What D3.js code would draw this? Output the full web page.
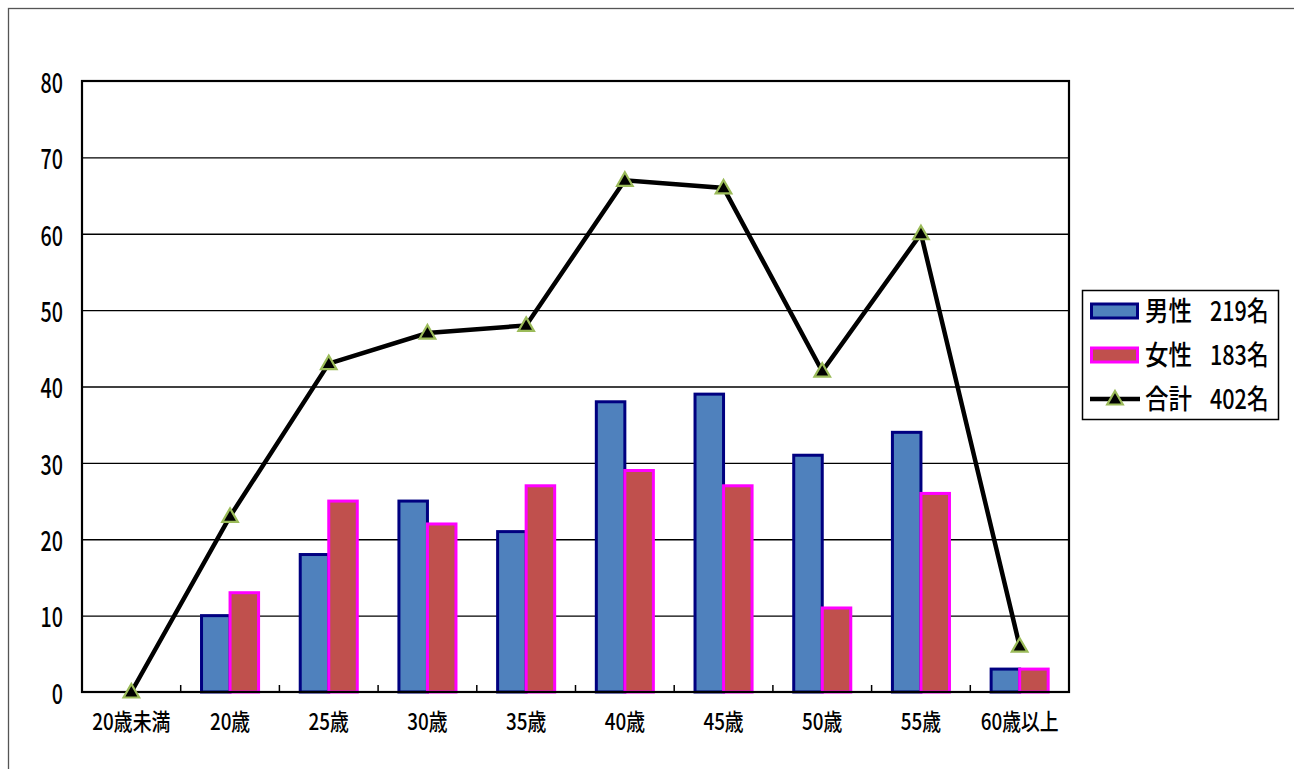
<!DOCTYPE html>
<html><head><meta charset="utf-8">
<script src="https://cdn.jsdelivr.net/npm/d3@7"></script>
<style>
html,body{margin:0;padding:0;background:#fff;}
text{font-family:"Noto Sans CJK JP","Noto Sans",sans-serif;fill:#000;font-weight:500;}
</style></head>
<body><svg id="c" width="1294" height="769"></svg>
<script>
const categories = ["20歳未満","20歳","25歳","30歳","35歳","40歳","45歳","50歳","55歳","60歳以上"];
const male   = [0,10,18,25,21,38,39,31,34,3];
const female = [0,13,25,22,27,29,27,11,26,3];
const total  = [0,23,43,47,48,67,66,42,60,6];
const seriesNames = ["男性","女性","合計"];
const yTicks = [0,10,20,30,40,50,60,70,80];

const svg = d3.select("#c");
svg.append("rect").attr("width",1294).attr("height",769).attr("fill","#fff");
svg.append("rect").attr("x",8.5).attr("y",8.5).attr("width",1400).attr("height",900)
  .attr("fill","none").attr("stroke","#555").attr("stroke-width",1.3);

const L=82, R=1069, T=81, B=692;
const x = d3.scaleBand().domain(categories).range([L,R]).padding(0);
const y = d3.scaleLinear().domain([0,80]).range([B,T]);
const x1 = d3.scaleBand().domain(["m","f"]).range([0,x.bandwidth()]).paddingInner(0).paddingOuter(0.73);

// grid
svg.append("g").selectAll("line").data(yTicks.filter(v=>v>0&&v<80)).join("line")
  .attr("x1",L).attr("x2",R).attr("y1",d=>y(d)+0.5).attr("y2",d=>y(d)+0.5)
  .attr("stroke","#000").attr("stroke-width",1.4);

// bars
const bars = svg.append("g");
categories.forEach((c,i)=>{
  [["m",male[i],"#4F81BD","#000080"],["f",female[i],"#C0504D","#FF00FF"]].forEach(([k,v,fill,stroke])=>{
    if(v<=0) return;
    bars.append("rect")
      .attr("x",x(c)+x1(k)).attr("width",x1.bandwidth())
      .attr("y",y(v)).attr("height",y(0)-y(v))
      .attr("fill",fill).attr("stroke",stroke).attr("stroke-width",3);
  });
});

// plot frame
svg.append("rect").attr("x",L).attr("y",T).attr("width",R-L).attr("height",B-T)
  .attr("fill","none").attr("stroke","#000").attr("stroke-width",2.2);

// x boundary ticks (inside)
svg.append("g").selectAll("line").data(categories.slice(1)).join("line")
  .attr("x1",d=>x(d)).attr("x2",d=>x(d)).attr("y1",B).attr("y2",B-7)
  .attr("stroke","#000").attr("stroke-width",1.5);

// y axis
const ya = svg.append("g").attr("transform",`translate(${L},0)`)
  .call(d3.axisLeft(y).tickValues(yTicks).tickSize(0).tickFormat(d3.format("d")));
ya.select(".domain").remove();
ya.selectAll("text").attr("font-size",27).attr("x",-26).attr("dy","0.42em")
  .attr("transform","scale(0.73,1)")
  .style("font-family",'"Noto Sans CJK JP"');

// x axis labels
const xa = svg.append("g").attr("transform",`translate(0,${B})`)
  .call(d3.axisBottom(x).tickSize(0));
xa.select(".domain").remove();
xa.selectAll(".tick text").attr("font-size",23).attr("y",30).attr("dy","0.36em")
   .attr("transform","scale(0.82,1)").style("font-family",'"Noto Sans CJK JP"');

// line
const pts = categories.map((c,i)=>[x(c)+x.bandwidth()/2, y(total[i])]);
svg.append("path").attr("d",d3.line()(pts)).attr("fill","none")
  .attr("stroke","#000").attr("stroke-width",4.5).attr("stroke-linejoin","miter");
const tri = d3.symbol().type(d3.symbolTriangle).size(105);
svg.append("g").selectAll("path").data(pts).join("path")
  .attr("d",tri).attr("transform",d=>`translate(${d[0]},${d[1]+1})`)
  .attr("fill","#000").attr("stroke","#9BBB59").attr("stroke-width",2.2);

// legend
const lg = svg.append("g");
lg.append("rect").attr("x",1082.5).attr("y",290.5).attr("width",196).attr("height",129)
  .attr("fill","#fff").attr("stroke","#000").attr("stroke-width",1.5);
const totals = [d3.sum(male), d3.sum(female), d3.sum(total)];
const rowsY = [311,355,399];
[["#4F81BD","#000080"],["#C0504D","#FF00FF"]].forEach(([f,s],i)=>{
  lg.append("rect").attr("x",1091.5).attr("y",rowsY[i]-7).attr("width",46).attr("height",14)
    .attr("fill",f).attr("stroke",s).attr("stroke-width",3);
});
lg.append("line").attr("x1",1090).attr("x2",1140).attr("y1",rowsY[2]).attr("y2",rowsY[2])
  .attr("stroke","#000").attr("stroke-width",4.5);
lg.append("path").attr("d",tri).attr("transform",`translate(1115,${rowsY[2]+1})`)
  .attr("fill","#000").attr("stroke","#9BBB59").attr("stroke-width",2.2);
seriesNames.forEach((n,i)=>{
  lg.append("text").attr("transform",`translate(1145,${rowsY[i]}) scale(0.87,1)`)
    .attr("font-size",27).attr("dy","0.36em").text(n);
  lg.append("text").attr("transform",`translate(1210,${rowsY[i]}) scale(0.8,1)`)
    .attr("font-size",27).attr("dy","0.36em").text(`${totals[i]}名`);
});
</script></body></html>
